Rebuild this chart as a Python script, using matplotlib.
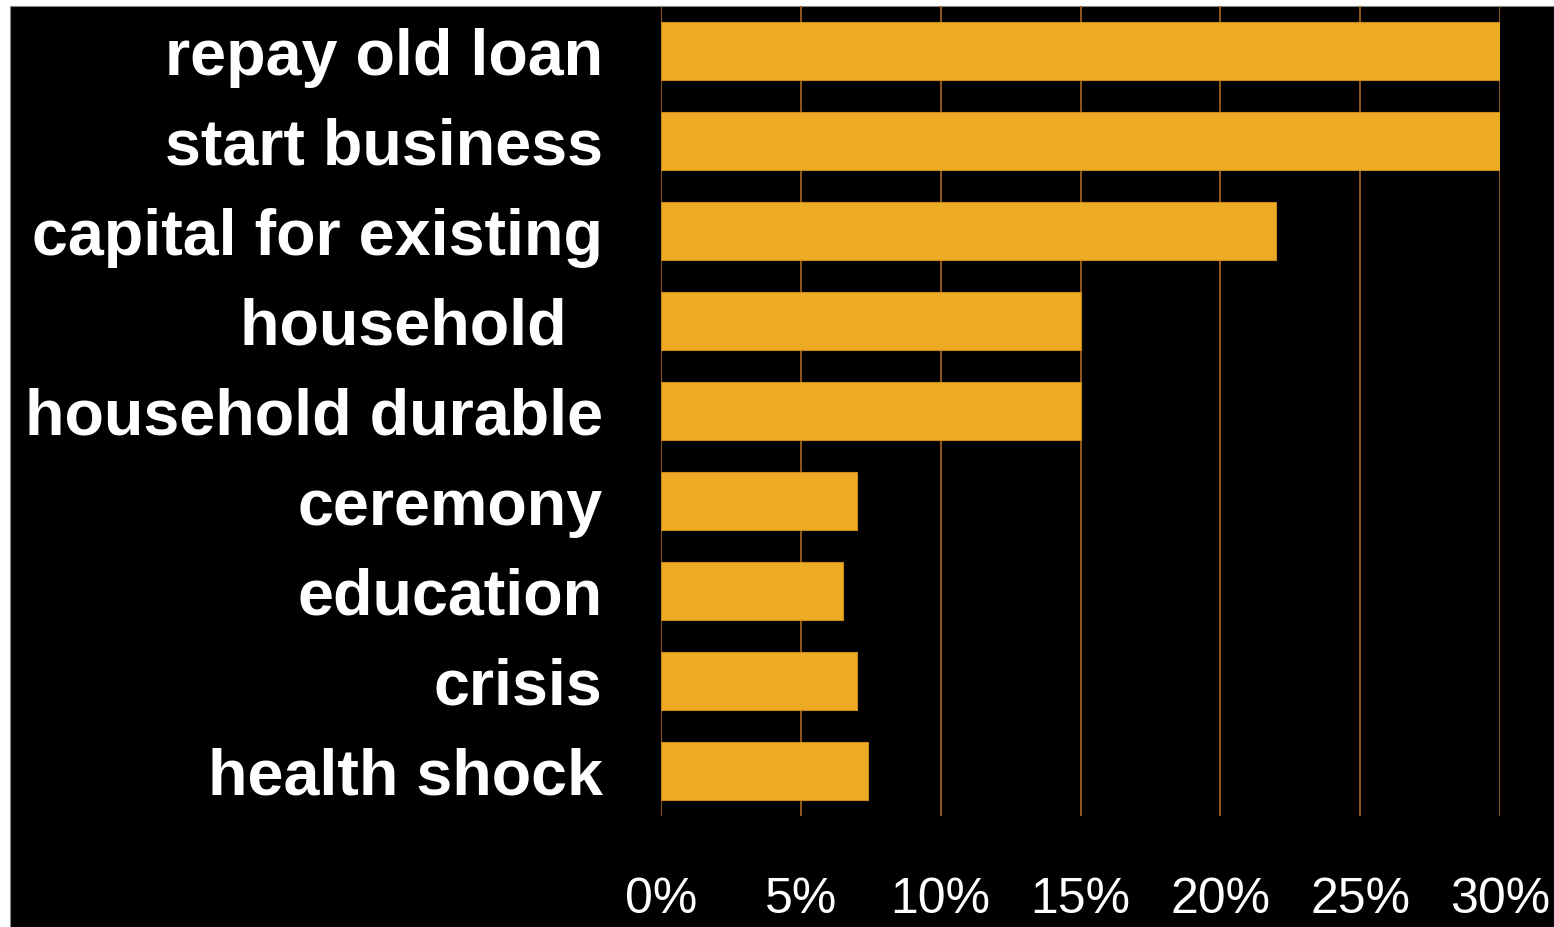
import matplotlib.pyplot as plt
from matplotlib.patches import Rectangle
from matplotlib.ticker import FuncFormatter
from matplotlib import font_manager

categories = ['repay old loan', 'start business', 'capital for existing', 'household  ',
              'household durable', 'ceremony', 'education', 'crisis', 'health shock']
shares = [30, 30, 22, 15, 15, 7.0, 6.5, 7.0, 7.4]
xticks = [0, 5, 10, 15, 20, 25, 30]

bar_color = '#EDAB25'
grid_color = '#9A5F1E'

names = {f.name for f in font_manager.fontManager.ttflist}
tick_font = 'Liberation Sans Narrow' if 'Liberation Sans Narrow' in names else 'Liberation Sans'

fig = plt.figure(figsize=(15.54, 9.27), dpi=100, facecolor='white')
# black panel, leaving a thin white margin at top and left
fig.patches.append(Rectangle((10 / 1554, 0), 1 - 10 / 1554, 1 - 6 / 927,
                             transform=fig.transFigure, facecolor='black',
                             edgecolor='#888888', linewidth=0.8, zorder=-10))

ax = fig.add_axes([661 / 1554, 111 / 927, 839 / 1554, 810 / 927])
ax.patch.set_alpha(0)

ypos = range(len(categories))
ax.barh(ypos, shares, height=0.655, color=bar_color, edgecolor='#C98A1A',
        linewidth=0.8, zorder=3)

ax.set_xlim(0, 30)
ax.set_ylim(len(categories) - 0.5, -0.5)
ax.set_xticks(xticks)
ax.xaxis.set_major_formatter(FuncFormatter(lambda v, p: f'{v:.0f}%'))
ax.set_yticks(list(ypos))
ax.set_yticklabels(categories, fontsize=46.5, fontweight='bold', color='white',
                   family='Liberation Sans')
for lab in ax.get_xticklabels():
    lab.set_family(tick_font)
    lab.set_fontsize(36)
    lab.set_color('white')

ax.tick_params(axis='y', length=0, pad=42)
ax.tick_params(axis='x', length=0, pad=44)
for s in ax.spines.values():
    s.set_visible(False)

for x in xticks:
    ax.axvline(x, color=grid_color, linewidth=1.3, zorder=1)

fig.savefig('out.png', dpi=100, facecolor='white')
